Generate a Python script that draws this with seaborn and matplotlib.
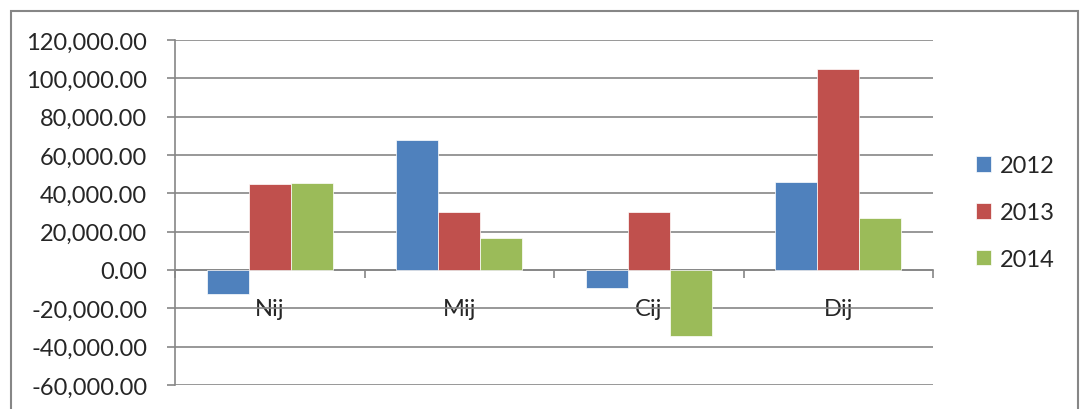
import seaborn as sns
import matplotlib.pyplot as plt
import matplotlib.ticker as mticker
from matplotlib.patches import Rectangle
import pandas as pd

categories = ['Nij', 'Mij', 'Cij', 'Dij']
years = ['2012', '2013', '2014']
v2012 = [-12400, 67700, -9400, 45900]
v2013 = [44700, 30100, 30100, 104900]
v2014 = [45400, 16700, -34600, 27100]
colors = ['#4F81BD', '#C0504D', '#9BBB59']

df = pd.DataFrame({
    'Category': categories * 3,
    'Year': [y for y in years for _ in categories],
    'Value': v2012 + v2013 + v2014,
})

sns.set_style('white')
plt.rcParams['font.family'] = ['Lato', 'DejaVu Sans']
plt.rcParams['axes.unicode_minus'] = False
grey = '#868686'

fig = plt.figure(figsize=(10.8, 4.1), dpi=100)
ax = fig.add_axes([175 / 1080, 1 - 386 / 410, (933 - 175) / 1080, (386 - 41) / 410])

sns.barplot(data=df, x='Category', y='Value', hue='Year', palette=colors,
            saturation=1, width=0.665, gap=0, edgecolor='white', linewidth=0.5,
            ax=ax, zorder=3)

ax.set_xlim(-0.5, 3.5)
ax.set_ylim(-60000, 120000)
ax.yaxis.set_major_locator(mticker.MultipleLocator(20000))
ax.yaxis.set_major_formatter(mticker.StrMethodFormatter('{x:,.2f}'))
ax.grid(axis='y', color=grey, linewidth=1.2, zorder=0)
ax.set_axisbelow(True)
ax.set_xlabel('')
ax.set_ylabel('')

for s in ['top', 'right']:
    ax.spines[s].set_visible(False)
ax.spines['left'].set_color(grey)
ax.spines['left'].set_linewidth(1.2)
ax.spines['bottom'].set_position(('data', 0))
ax.spines['bottom'].set_color(grey)
ax.spines['bottom'].set_linewidth(1.2)

ax.tick_params(axis='y', length=6, width=1.2, color=grey, pad=14, labelsize=17,
               direction='out', left=True)
ax.tick_params(axis='x', which='major', length=0, pad=20, labelsize=17)
ax.set_xticks([-0.5, 0.5, 1.5, 2.5, 3.5], minor=True)
ax.tick_params(axis='x', which='minor', length=6, width=1.2, color=grey,
               direction='out', bottom=True)

ax.legend(loc='center left', bbox_to_anchor=(1.044, 0.5), borderaxespad=0,
          frameon=False, fontsize=17, handlelength=0.65, handleheight=0.65,
          handletextpad=0.35, labelspacing=1.09, title=None)

fig.patches.append(Rectangle((11 / 1080, -0.05), (1078 - 11) / 1080, 1.05 - 12 / 410,
                             transform=fig.transFigure, fill=False,
                             edgecolor=grey, linewidth=1.5))

fig.savefig('out.png', dpi=100)
